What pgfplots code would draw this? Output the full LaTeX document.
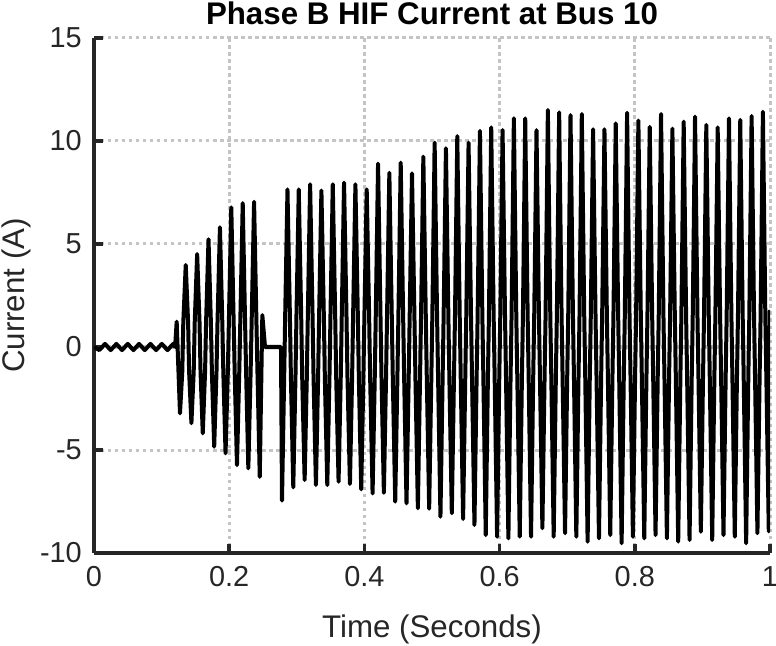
\documentclass[border=0pt]{standalone}
\usepackage{fontspec}
\setmainfont{Liberation Sans}
\usepackage{pgfplots}
\pgfplotsset{compat=1.18}
\definecolor{axisgray}{RGB}{38,38,38}
\definecolor{gridgray}{RGB}{196,196,196}

\begin{document}
\begin{tikzpicture}
% page = 776 x 646, axis box = 676 x 515 with its lower left corner at (0,0)
\useasboundingbox (-94bp,-93bp) rectangle (682bp,553bp);
\begin{axis}[
  scale only axis, width=676bp, height=515bp,
  xmin=0, xmax=1, ymin=-10, ymax=15,
  axis x line*=bottom, axis y line*=left,
  axis line style={axisgray, line width=3.6bp},
  xtick={0,0.2,0.4,0.6,0.8,1}, xticklabels={0,0.2,0.4,0.6,0.8,1},
  ytick={-10,-5,0,5,10,15}, yticklabels={-10,-5,0,5,10,15},
  tick align=inside, major tick length=9bp,
  tick style={axisgray, line width=3.6bp},
  grid=major, grid style={gridgray, line width=3bp, dash pattern=on 3.5bp off 3.5bp},
  tick label style={font=\fontsize{29}{31}\selectfont, color=axisgray, inner sep=0pt},
  xticklabel shift=13bp, yticklabel shift=12bp,
  title={Phase B HIF Current at Bus 10},
  every axis title/.style={font=\bfseries\fontsize{31.4}{33}\selectfont, inner sep=0pt,
    at={([yshift=13bp]axis description cs:0.5,1)}, anchor=base},
  xlabel={Time (Seconds)}, ylabel={Current (A)},
  label style={font=\fontsize{31.4}{33}\selectfont, color=axisgray, inner sep=0pt},
  xlabel style={at={([yshift=-84bp]axis description cs:0.5,0)}, anchor=base},
  ylabel style={at={([xshift=-69bp]axis description cs:0,0.5)}, anchor=base},
]
\addplot[black, line width=4bp, line join=round] coordinates {
 % pre-fault ripple
 (0.0000,0.00) (0.0079,-0.15) (0.0163,0.15) (0.0247,-0.15) (0.0331,0.15) (0.0415,-0.15)
 (0.0499,0.15) (0.0583,-0.15) (0.0667,0.15) (0.0751,-0.15) (0.0835,0.15) (0.0919,-0.15)
 (0.1003,0.15) (0.1087,-0.15) (0.1171,0.15) (0.1200,0.00) (0.1223,1.23)
 % first burst
 (0.1272,-3.22) (0.1306,-1.2) (0.1321,1.2) (0.1357,3.98) (0.1392,1.2) (0.1407,-1.2)
 (0.1441,-3.70) (0.1475,-1.2) (0.1490,1.2) (0.1526,4.51) (0.1561,1.2) (0.1576,-1.2)
 (0.1609,-4.19) (0.1643,-1.2) (0.1658,1.2) (0.1694,5.23) (0.1729,1.2) (0.1744,-1.2)
 (0.1778,-4.84) (0.1812,-1.2) (0.1827,1.2) (0.1863,5.81) (0.1898,1.2) (0.1913,-1.2)
 (0.1946,-5.16) (0.1980,-1.2) (0.1995,1.2) (0.2031,6.78) (0.2066,1.2) (0.2081,-1.2)
 (0.2115,-5.73) (0.2149,-1.2) (0.2164,1.2) (0.2200,6.98) (0.2235,1.2) (0.2250,-1.2)
 (0.2283,-5.89) (0.2317,-1.2) (0.2332,1.2) (0.2368,7.05) (0.2403,1.2) (0.2418,-1.2)
 (0.2452,-6.30) (0.2490,1.55) (0.2530,0.00) (0.2766,0.00)
 % sustained fault
 (0.2781,-7.46) (0.2813,-1.5) (0.2828,1.5) (0.2862,7.65) (0.2898,1.5) (0.2913,-1.5)
 (0.2948,-6.81) (0.2980,-1.5) (0.2995,1.5) (0.3029,7.65) (0.3065,1.5) (0.3080,-1.5)
 (0.3116,-6.46) (0.3148,-1.5) (0.3163,1.5) (0.3197,7.90) (0.3233,1.5) (0.3248,-1.5)
 (0.3283,-6.70) (0.3315,-1.5) (0.3330,1.5) (0.3364,7.60) (0.3400,1.5) (0.3415,-1.5)
 (0.3451,-6.70) (0.3483,-1.5) (0.3498,1.5) (0.3532,7.90) (0.3568,1.5) (0.3583,-1.5)
 (0.3618,-6.54) (0.3650,-1.5) (0.3665,1.5) (0.3699,7.98) (0.3735,1.5) (0.3750,-1.5)
 (0.3786,-6.65) (0.3818,-1.5) (0.3833,1.5) (0.3867,7.90) (0.3903,1.5) (0.3918,-1.5)
 (0.3953,-6.91) (0.3985,-1.5) (0.4000,1.5) (0.4034,7.65) (0.4070,1.5) (0.4085,-1.5)
 (0.4121,-7.11) (0.4153,-1.5) (0.4168,1.5) (0.4202,8.90) (0.4238,1.5) (0.4253,-1.5)
 (0.4288,-7.08) (0.4320,-1.5) (0.4335,1.5) (0.4369,8.46) (0.4405,1.5) (0.4420,-1.5)
 (0.4456,-7.51) (0.4488,-1.5) (0.4503,1.5) (0.4537,8.95) (0.4573,1.5) (0.4588,-1.5)
 (0.4623,-7.59) (0.4655,-1.5) (0.4670,1.5) (0.4704,8.43) (0.4740,1.5) (0.4755,-1.5)
 (0.4791,-7.83) (0.4823,-1.5) (0.4838,1.5) (0.4872,9.24) (0.4908,1.5) (0.4923,-1.5)
 (0.4958,-7.85) (0.4990,-1.5) (0.5005,1.5) (0.5039,9.92) (0.5075,1.5) (0.5090,-1.5)
 (0.5125,-8.24) (0.5157,-1.5) (0.5172,1.5) (0.5206,9.65) (0.5242,1.5) (0.5257,-1.5)
 (0.5293,-8.07) (0.5325,-1.5) (0.5340,1.5) (0.5374,10.24) (0.5410,1.5) (0.5425,-1.5)
 (0.5460,-8.35) (0.5492,-1.5) (0.5507,1.5) (0.5541,9.92) (0.5577,1.5) (0.5592,-1.5)
 (0.5628,-8.64) (0.5660,-1.5) (0.5675,1.5) (0.5709,10.49) (0.5745,1.5) (0.5760,-1.5)
 (0.5795,-9.13) (0.5827,-1.5) (0.5842,1.5) (0.5876,10.66) (0.5912,1.5) (0.5927,-1.5)
 (0.5963,-9.21) (0.5995,-1.5) (0.6010,1.5) (0.6044,10.53) (0.6080,1.5) (0.6095,-1.5)
 (0.6130,-9.29) (0.6162,-1.5) (0.6177,1.5) (0.6211,11.10) (0.6247,1.5) (0.6262,-1.5)
 (0.6298,-9.21) (0.6330,-1.5) (0.6345,1.5) (0.6379,11.10) (0.6415,1.5) (0.6430,-1.5)
 (0.6465,-9.21) (0.6497,-1.5) (0.6512,1.5) (0.6546,10.53) (0.6582,1.5) (0.6597,-1.5)
 (0.6633,-8.80) (0.6665,-1.5) (0.6680,1.5) (0.6714,11.50) (0.6750,1.5) (0.6765,-1.5)
 (0.6800,-9.21) (0.6832,-1.5) (0.6847,1.5) (0.6881,11.39) (0.6917,1.5) (0.6932,-1.5)
 (0.6968,-9.04) (0.7000,-1.5) (0.7015,1.5) (0.7049,11.26) (0.7085,1.5) (0.7100,-1.5)
 (0.7135,-9.21) (0.7167,-1.5) (0.7182,1.5) (0.7216,11.31) (0.7252,1.5) (0.7267,-1.5)
 (0.7302,-9.45) (0.7334,-1.5) (0.7349,1.5) (0.7383,10.57) (0.7419,1.5) (0.7434,-1.5)
 (0.7470,-9.29) (0.7502,-1.5) (0.7517,1.5) (0.7551,10.57) (0.7587,1.5) (0.7602,-1.5)
 (0.7637,-9.13) (0.7669,-1.5) (0.7684,1.5) (0.7718,10.86) (0.7754,1.5) (0.7769,-1.5)
 (0.7805,-9.53) (0.7837,-1.5) (0.7852,1.5) (0.7886,11.37) (0.7922,1.5) (0.7937,-1.5)
 (0.7972,-9.21) (0.8004,-1.5) (0.8019,1.5) (0.8053,10.99) (0.8089,1.5) (0.8104,-1.5)
 (0.8140,-9.29) (0.8172,-1.5) (0.8187,1.5) (0.8221,10.69) (0.8257,1.5) (0.8272,-1.5)
 (0.8307,-9.13) (0.8339,-1.5) (0.8354,1.5) (0.8388,11.31) (0.8424,1.5) (0.8439,-1.5)
 (0.8475,-9.29) (0.8507,-1.5) (0.8522,1.5) (0.8556,10.60) (0.8592,1.5) (0.8607,-1.5)
 (0.8642,-9.45) (0.8674,-1.5) (0.8689,1.5) (0.8723,10.94) (0.8759,1.5) (0.8774,-1.5)
 (0.8810,-9.37) (0.8842,-1.5) (0.8857,1.5) (0.8891,11.18) (0.8927,1.5) (0.8942,-1.5)
 (0.8977,-8.97) (0.9009,-1.5) (0.9024,1.5) (0.9058,10.78) (0.9094,1.5) (0.9109,-1.5)
 (0.9145,-9.37) (0.9177,-1.5) (0.9192,1.5) (0.9226,10.66) (0.9262,1.5) (0.9277,-1.5)
 (0.9312,-9.13) (0.9344,-1.5) (0.9359,1.5) (0.9393,11.10) (0.9429,1.5) (0.9444,-1.5)
 (0.9479,-9.21) (0.9511,-1.5) (0.9526,1.5) (0.9560,11.02) (0.9596,1.5) (0.9611,-1.5)
 (0.9647,-9.53) (0.9679,-1.5) (0.9694,1.5) (0.9728,11.21) (0.9764,1.5) (0.9779,-1.5)
 (0.9814,-9.04) (0.9846,-1.5) (0.9861,1.5) (0.9895,11.42) (0.9931,1.5) (0.9946,-1.5)
 (0.9982,-8.95) (1.0000,1.80)
};
\end{axis}
\end{tikzpicture}
\end{document}
